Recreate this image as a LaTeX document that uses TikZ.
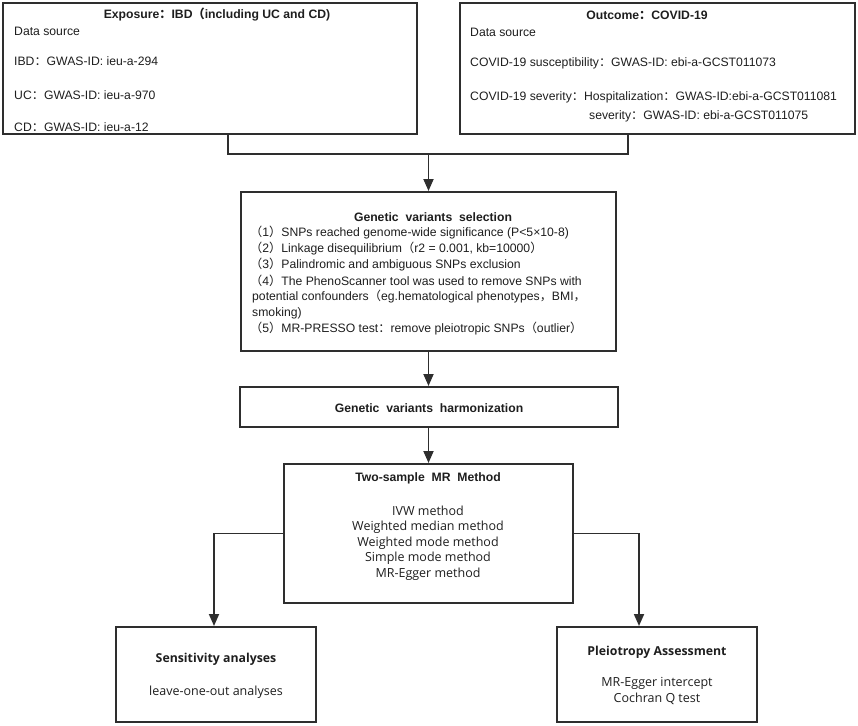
\documentclass[tikz,border=0pt]{standalone}
\usepackage{fontspec}
\setmainfont{Liberation Sans}
\newfontfamily\cjk{Noto Sans CJK SC}
\newfontfamily\yahei{Open Sans}
\usetikzlibrary{arrows.meta}
\usetikzlibrary{calc}

\definecolor{boxline}{HTML}{2E2E2E}
\definecolor{ink}{HTML}{1E1E1E}

% full-width punctuation
\newcommand{\cc}{{\cjk ：}}
\newcommand{\lp}{{\cjk （}}
\newcommand{\rp}{{\cjk ）}}
\newcommand{\cm}{{\cjk ，}}

\begin{document}
\begin{tikzpicture}[x=1pt, y=-1pt,
	box/.style={draw=boxline, line width=2pt, inner sep=0pt},
	txt/.style={anchor=west, inner sep=0pt, text=ink, font=\fontsize{12.2}{15}\selectfont},
	ttl/.style={inner sep=0pt, text=ink, font=\fontsize{12.2}{15}\selectfont\bfseries},
	ytxt/.style={inner sep=0pt, text=ink, font=\yahei\fontsize{12.5}{15}\selectfont},
	yttl/.style={inner sep=0pt, text=ink, font=\yahei\fontsize{12.3}{15}\selectfont\bfseries},
	link/.style={draw=boxline, line width=1.8pt},
	arr/.style={link, -{Triangle[width=10pt, length=12pt]}}]

		\useasboundingbox (0, 0) rectangle (858, 725);

		% boxes
		\node[box, minimum width=414pt, minimum height=131pt] (expo) at (210, 68.5) {};
		\node[box, minimum width=395pt, minimum height=131pt] (outc) at (657.5, 68.5) {};
		\node[box, minimum width=375pt, minimum height=159pt] (sel) at (428.5, 271.5) {};
		\node[box, minimum width=378pt, minimum height=40pt] (harm) at (428.5, 407) {};
		\node[box, minimum width=289pt, minimum height=139pt] (mr) at (428.5, 533.5) {};
		\node[box, minimum width=200pt, minimum height=95pt] (sens) at (216, 674.5) {};
		\node[box, minimum width=200pt, minimum height=95pt] (pleio) at (657, 674.5) {};

		% exposure
		\node[ttl] (expot) at (217, 15) {Exposure\cc IBD\lp including UC and CD)};
		\node[txt] (expo1) at (14, 31) {Data source};
		\node[txt] (expo2) at (14, 61) {IBD\cc GWAS-ID: ieu-a-294};
		\node[txt] (expo3) at (14, 95) {UC\cc GWAS-ID: ieu-a-970};
		\node[txt] (expo4) at (14, 127) {CD\cc GWAS-ID: ieu-a-12};

		% outcome
		\node[ttl] (outct) at (647, 15) {Outcome\cc COVID-19};
		\node[txt] (outc1) at (470, 32) {Data source};
		\node[txt] (outc2) at (470, 63) {COVID-19 susceptibility\cc GWAS-ID: ebi-a-GCST011073};
		\node[txt] (outc3) at (470, 97) {COVID-19 severity\cc Hospitalization\cc GWAS-ID:ebi-a-GCST011081};
		\node[txt] (outc4) at (589, 116) {severity\cc GWAS-ID: ebi-a-GCST011075};

		% selection
		\node[ttl] (selt) at (433, 217) {Genetic\ \ variants\ \ selection};
		\node[txt] (sel1) at (250, 233) {\lp 1\rp SNPs reached genome-wide significance (P<5×10-8)};
		\node[txt] (sel2) at (250, 249) {\lp 2\rp Linkage disequilibrium\lp r2 = 0.001, kb=10000\rp};
		\node[txt] (sel3) at (250, 265) {\lp 3\rp Palindromic and ambiguous SNPs exclusion};
		\node[txt] (sel4) at (250, 281) {\lp 4\rp The PhenoScanner tool was used to remove SNPs with};
		\node[txt] (sel5) at (252, 297) {potential confounders\lp eg.hematological phenotypes\cm BMI\cm};
		\node[txt] (sel6) at (252, 313) {smoking)};
		\node[txt] (sel7) at (250, 329) {\lp 5\rp MR-PRESSO test\cc remove pleiotropic SNPs\lp outlier\rp};

		% harmonization
		\node[ttl] (harmt) at (429, 408) {Genetic\ \ variants\ \ harmonization};

		% MR methods
		\node[ttl] (mrt) at (428, 478) {Two-sample\ \ MR\ \ Method};
		\node[ytxt] (mr1) at (428, 511) {IVW method};
		\node[ytxt] (mr2) at (428, 527) {Weighted median method};
		\node[ytxt] (mr3) at (428, 543) {Weighted mode method};
		\node[ytxt] (mr4) at (428, 558) {Simple mode method};
		\node[ytxt] (mr5) at (428, 574) {MR-Egger method};

		% sensitivity and pleiotropy
		\node[yttl] (senst) at (216, 659) {Sensitivity analyses};
		\node[ytxt] (sens1) at (216, 692) {leave-one-out analyses};
		\node[yttl] (pleiot) at (657, 652) {Pleiotropy Assessment};
		\node[ytxt] (pleio1) at (657, 683) {MR-Egger intercept};
		\node[ytxt] (pleio2) at (657, 699) {Cochran Q test};

		% connectors
		\coordinate (merge) at (428.5, 154);
		\draw[link] ($(expo.south)+(18,0)$) |- (merge) -| ($(outc.south)+(-29.5,0)$);
		\draw[arr] (merge) -- (merge |- sel.north);
		\draw[arr] (sel.south) -- (harm.north);
		\draw[arr] (harm.south) -- (mr.north);
		\draw[arr] (mr.west) -| ($(sens.north)+(-2,0)$);
		\draw[arr] (mr.east) -| ($(pleio.north)+(-18,0)$);
	\end{tikzpicture}
\end{document}
